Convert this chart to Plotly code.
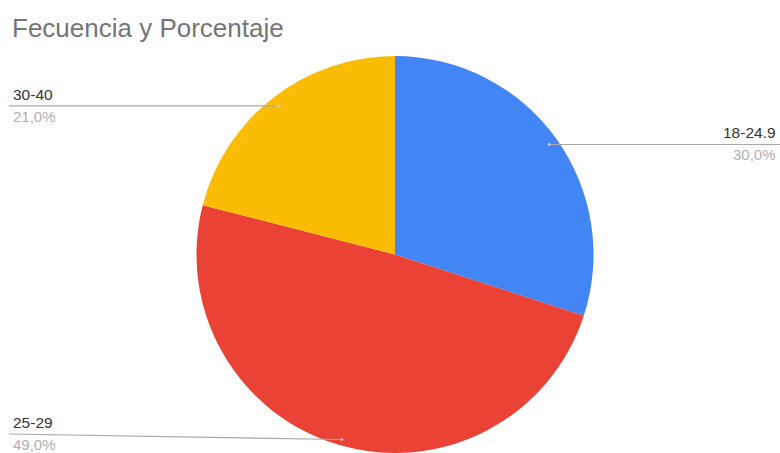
import math
import plotly.graph_objects as go

labels = ["18-24.9", "25-29", "30-40"]
values = [30.0, 49.0, 21.0]
pct_labels = ["30,0%", "49,0%", "21,0%"]
colors = ["#4285F4", "#EA4335", "#FBBC04"]
title = "Fecuencia y Porcentaje"

W, H = 780, 453
R = 198.5
CX, CY = 395.0, H - R  # pixel coords (y from top)

fig = go.Figure(go.Pie(
    labels=labels, values=values, sort=False, direction="clockwise", rotation=0,
    marker=dict(colors=colors, line=dict(width=0)),
    textinfo="none", hoverinfo="label+percent",
    domain=dict(x=[(CX - R) / W, (CX + R) / W], y=[0, 2 * R / H]),
))

shapes, annos = [], []
total = sum(values)
cum = 0.0
for lab, v, pl in zip(labels, values, pct_labels):
    mid = (cum + v / 2) / total * 2 * math.pi
    cum += v
    ax = CX + 0.96 * R * math.sin(mid)
    ay = CY - 0.96 * R * math.cos(mid) + 2
    ly = min(ay, H - 19)  # keep label text inside the picture
    right = ax > CX
    xend = W if right else 9
    shapes.append(dict(type="line", xref="paper", yref="paper",
                       x0=ax / W, y0=1 - ay / H, x1=xend / W, y1=1 - ly / H,
                       line=dict(color="#a8a8a8", width=1.2)))
    shapes.append(dict(type="circle", xref="paper", yref="paper",
                       x0=(ax - 1.5) / W, x1=(ax + 1.5) / W,
                       y0=1 - (ay + 1.5) / H, y1=1 - (ay - 1.5) / H,
                       fillcolor="#c8c8c8", line=dict(width=0)))
    tx = (W - 2) if right else 11
    xa = "right" if right else "left"
    annos.append(dict(x=tx / W, y=1 - (ly - 1) / H, xref="paper", yref="paper",
                      text=lab, showarrow=False, xanchor=xa, yanchor="bottom",
                      font=dict(family="Liberation Sans, Arial", size=15.5, color="#333333")))
    annos.append(dict(x=tx / W, y=1 - ly / H, xref="paper", yref="paper",
                      text=pl, showarrow=False, xanchor=xa, yanchor="top",
                      font=dict(family="Liberation Sans, Arial", size=15, color="#b0b0b0")))

annos.append(dict(x=10 / W, y=1 - 28 / H, xref="paper", yref="paper", text=title,
                  showarrow=False, xanchor="left", yanchor="middle",
                  font=dict(family="Liberation Sans, Arial", size=26, color="#757575")))

fig.update_layout(width=W, height=H, margin=dict(l=0, r=0, t=0, b=0),
                  paper_bgcolor="white", plot_bgcolor="white", showlegend=False,
                  shapes=shapes, annotations=annos)
fig.write_html("out.html")
